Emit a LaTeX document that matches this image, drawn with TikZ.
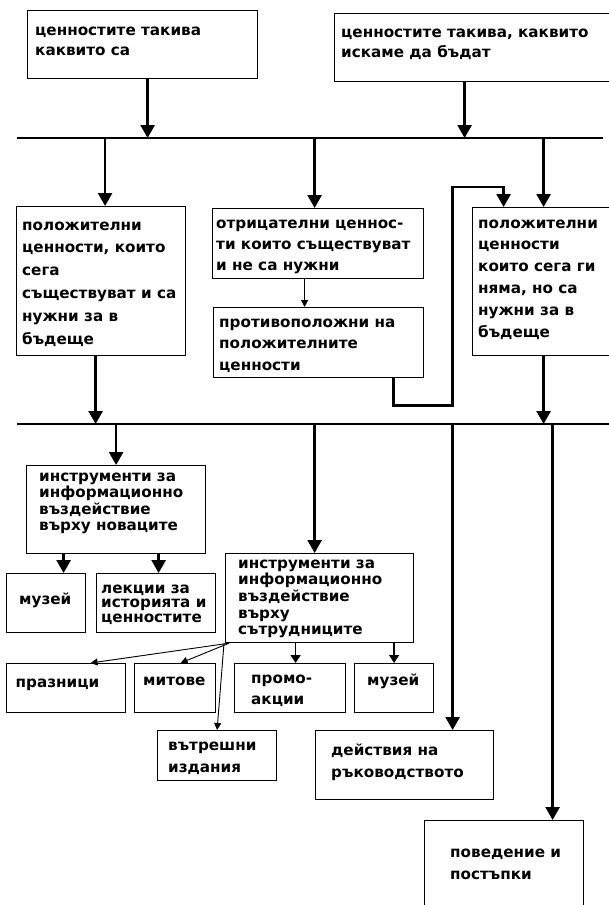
\documentclass[tikz,border=0pt]{standalone}
\usepackage{fontspec}
\setmainfont{DejaVu Sans}
\usetikzlibrary{arrows.meta}

\tikzset{
  box/.style={draw, line width=1.2pt, anchor=north west, inner sep=0pt},
  txt/.style={anchor=base west, inner sep=0pt, align=left, font=\fontsize{15.2}{#1}\selectfont\bfseries},
  txt/.default=21,
  bus/.style={line width=2.6pt},
  flow/.style={line width=2.6pt, -{Triangle[width=14pt,length=13pt]}},
  midflow/.style={line width=1.5pt, -{Triangle[width=10pt,length=8pt]}},
  thinflow/.style={line width=0.9pt, -{Triangle[width=7pt,length=7pt]}},
}

\begin{document}
\begin{tikzpicture}[x=1pt, y=-1pt]
        \useasboundingbox (0,0) rectangle (608,905);

        % top row (text nodes sit on their last baseline)
        \node[box, minimum width=230, minimum height=68] (now) at (27,10) {};
        \node[txt=20] (now-t) at (35,55) {ценностите такива\\каквито са};
        \node[box, minimum width=290, minimum height=68] (want) at (334,13) {};
        \node[txt=20] (want-t) at (341,57) {ценностите такива, каквито\\искаме да бъдат};

        \coordinate (b1w) at (17,138);
        \coordinate (b1e) at (603,138);
        \draw[bus] (b1w) -- (b1e);
        \draw[flow] ([xshift=5]now.south) -- ([xshift=5]now.south |- b1w);
        \draw[flow] ([xshift=-15]want.south) -- ([xshift=-15]want.south |- b1w);

        % middle row
        \node[box, minimum width=169, minimum height=149] (posNow) at (16,206) {};
        \node[txt=22.8] (posNow-t) at (22,344) {положителни\\ценности, които\\сега\\съществуват и са\\нужни за в\\бъдеще};
        \node[box, minimum width=211, minimum height=70] (negNow) at (212,208) {};
        \node[txt] (negNow-t) at (216,270) {отрицателни ценнос-\\ти които съществуват\\и не са нужни};
        \node[box, minimum width=210, minimum height=70] (opposite) at (213,307) {};
        \node[txt=21.5] (opposite-t) at (219,370) {противоположни на\\положителните\\ценности};
        \node[box, minimum width=150, minimum height=148] (posNeed) at (472,207) {};
        \node[txt=21.8] (posNeed-t) at (478,337) {положителни\\ценности\\които сега ги\\няма, но са\\нужни за в\\бъдеще};

        \draw[flow] ([xshift=4]posNow.north |- b1w) -- ([xshift=4]posNow.north);
        \draw[flow] ([xshift=-3.5]negNow.north |- b1w) -- ([xshift=-3.5]negNow.north);
        \draw[flow] ([xshift=-4]posNeed.north |- b1w) -- ([xshift=-4]posNeed.north);
        \draw[thinflow] ([xshift=-13.5]negNow.south) -- ([xshift=-13.5]negNow.south |- opposite.north);
        \draw[flow] ([xshift=75]opposite.south) -- ++(0,27) -- ++(59,0) |- ([xshift=-44,yshift=20]posNeed.north) -- ([xshift=-44]posNeed.north);

        \coordinate (b2w) at (17,424);
        \coordinate (b2e) at (612,424);
        \draw[bus] (b2w) -- (b2e);
        \draw[flow] ([xshift=-5.5]posNow.south) -- ([xshift=-5.5]posNow.south |- b2w);
        \draw[flow] ([xshift=-4]posNeed.south) -- ([xshift=-4]posNeed.south |- b2w);

        % tools
        \node[box, minimum width=179, minimum height=88] (toolsNew) at (26,465) {};
        \node[txt=16.5] (toolsNew-t) at (39,530.5) {инструменти за\\информационно\\въздействие\\върху новаците};
        \node[box, minimum width=188, minimum height=89] (toolsStaff) at (225,553) {};
        \node[txt=16.7] (toolsStaff-t) at (238,634.8) {инструменти за\\информационно\\въздействие\\върху\\сътрудниците};
        \node[box, minimum width=79, minimum height=59] (museumA) at (6,573) {};
        \node[txt] (museumA-t) at (19,604) {музей};
        \node[box, minimum width=119, minimum height=59] (lectures) at (96,573) {};
        \node[txt=14.8] (lectures-t) at (101,622.6) {лекции за\\историята и\\ценностите};

        \draw[flow] (toolsNew.north |- b2w) -- (toolsNew.north);
        \draw[flow] ([xshift=-5]toolsStaff.north |- b2w) -- ([xshift=-5]toolsStaff.north);
        \draw[flow] ([xshift=17.5]museumA.north |- toolsNew.south) -- ([xshift=17.5]museumA.north);
        \draw[flow] ([xshift=2.5]lectures.north |- toolsNew.south) -- ([xshift=2.5]lectures.north);

        % means for the staff
        \node[box, minimum width=119, minimum height=49] (holidays) at (6,663) {};
        \node[txt] (holidays-t) at (15.5,687) {празници};
        \node[box, minimum width=81, minimum height=49] (myths) at (134,663) {};
        \node[txt] (myths-t) at (143,685) {митове};
        \node[box, minimum width=111, minimum height=49] (promo) at (234,663) {};
        \node[txt] (promo-t) at (251,704) {промо-\\акции};
        \node[box, minimum width=79, minimum height=49] (museumB) at (354,663) {};
        \node[txt] (museumB-t) at (367,685) {музей};
        \node[box, minimum width=119, minimum height=50] (internal) at (157,730) {};
        \node[txt=22] (internal-t) at (168,772) {вътрешни\\издания};

        \draw[thinflow] ([xshift=4]toolsStaff.south west) -- ([xshift=24.5]holidays.north);
        \draw[thinflow] ([xshift=4]toolsStaff.south west) -- ([xshift=5.5]myths.north);
        \draw[thinflow] ([xshift=-1]toolsStaff.south west) -- (internal.north);
        \draw[midflow] ([xshift=5.5]promo.north |- toolsStaff.south) -- ([xshift=5.5]promo.north);
        \draw[midflow] (museumB.north |- toolsStaff.south) -- (museumB.north);

        % management and behaviour
        \node[box, minimum width=178, minimum height=69] (mgmt) at (315,730) {};
        \node[txt=22] (mgmt-t) at (331,777) {действия на\\ръководството};
        \node[box, minimum width=159, minimum height=100] (behav) at (424,820) {};
        \node[txt=22] (behav-t) at (450,879) {поведение и\\постъпки};

        \draw[flow] ([xshift=48]mgmt.north |- b2w) -- ([xshift=48]mgmt.north);
        \draw[flow] ([xshift=48.5]behav.north |- b2w) -- ([xshift=48.5]behav.north);

\end{tikzpicture}
\end{document}
